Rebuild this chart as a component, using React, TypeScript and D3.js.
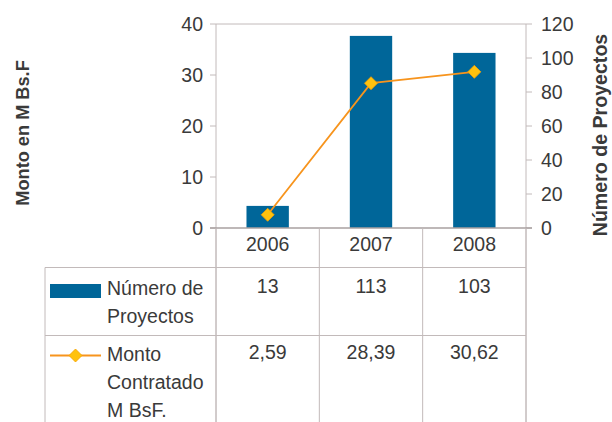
import React from 'react';
import * as d3 from 'd3';

const years = ['2006', '2007', '2008'];
const proyectos = [13, 113, 103];
const monto = [2.59, 28.39, 30.62];
const montoLabels = ['2,59', '28,39', '30,62'];
const leftTicks = [0, 10, 20, 30, 40];
const rightTicks = [0, 20, 40, 60, 80, 100, 120];

const W = 612;
const H = 422;
const plot = { left: 216, right: 526, top: 24, bottom: 228 };
const tableLeft = 45;
const row1 = 267.5;
const row2 = 335.5;

const font = '"Liberation Sans", Arial, sans-serif';
const textColor = '#3a3a3a';
const gridColor = '#c2baba';
const barColor = '#006699';
const lineColor = '#f7941d';
const markerColor = '#ffc20e';

const App = () => {
  const x = d3.scaleBand<string>().domain(years).range([plot.left, plot.right]).padding(0);
  const yLeft = d3.scaleLinear().domain([0, 40]).range([plot.bottom, plot.top]);
  const yRight = d3.scaleLinear().domain([0, 120]).range([plot.bottom, plot.top]);
  const bw = x.bandwidth() * 0.41;
  const cx = (d: string) => (x(d) as number) + x.bandwidth() / 2;

  const line = d3.line<number>()
    .x((_, i) => cx(years[i]))
    .y(d => yLeft(d));

  const diamond = (px: number, py: number, r: number) =>
    `M${px},${py - r}L${px + r},${py}L${px},${py + r}L${px - r},${py}Z`;

  const dividers = [plot.left, ...years.map(y => (x(y) as number) + x.bandwidth())];

  return (
    <svg width={W} height={H} style={{ position: 'absolute', left: 0, top: 0, background: '#fff' }}
      fontFamily={font}>
      {/* frame */}
      <line x1={plot.left} x2={plot.right} y1={plot.top} y2={plot.top} stroke={gridColor} />
      <line x1={plot.right} x2={plot.right} y1={plot.top} y2={H} stroke={gridColor} />

      {/* bars */}
      {years.map((y, i) => (
        <rect key={y} x={cx(y) - bw / 2} y={yRight(proyectos[i])} width={bw}
          height={plot.bottom - yRight(proyectos[i])} fill={barColor} />
      ))}

      {/* line + markers */}
      <path d={line(monto) || ''} fill="none" stroke={lineColor} strokeWidth={1.8} />
      {monto.map((v, i) => (
        <path key={i} d={diamond(cx(years[i]), yLeft(v), 6.5)} fill={markerColor}
          stroke="#f5a000" strokeWidth={0.8} />
      ))}

      {/* left axis */}
      <line x1={plot.left} x2={plot.left} y1={plot.top} y2={H} stroke={gridColor} />
      {leftTicks.map(t => (
        <g key={t}>
          <line x1={plot.left - 6} x2={plot.left} y1={yLeft(t)} y2={yLeft(t)} stroke={gridColor} />
          <text x={203} y={yLeft(t)} dy="0.36em" textAnchor="end" fontSize={19.5} fill={textColor}>{t}</text>
        </g>
      ))}

      {/* right axis */}
      {rightTicks.map(t => (
        <g key={t}>
          <line x1={plot.right} x2={plot.right + 6} y1={yRight(t)} y2={yRight(t)} stroke={gridColor} />
          <text x={541} y={yRight(t)} dy="0.36em" textAnchor="start" fontSize={19.5} fill={textColor}>{t}</text>
        </g>
      ))}

      {/* zero line */}
      <line x1={plot.left - 6} x2={plot.right + 6} y1={plot.bottom} y2={plot.bottom} stroke="#a8a0a0" strokeWidth={1.5} />

      {/* axis titles */}
      <text transform="translate(29,133) rotate(-90)" textAnchor="middle" fontSize={18.2}
        fontWeight="bold" fill={textColor}>Monto en M Bs.F</text>
      <text transform="translate(607,135) rotate(-90)" textAnchor="middle" fontSize={19.6}
        fontWeight="bold" fill={textColor}>Número de Proyectos</text>

      {/* category labels */}
      {years.map(y => (
        <text key={y} x={cx(y)} y={251} textAnchor="middle" fontSize={19.5} fill={textColor}>{y}</text>
      ))}

      {/* data table */}
      {dividers.map((d, i) => (
        <line key={i} x1={d} x2={d} y1={plot.bottom} y2={H} stroke={gridColor} />
      ))}
      <line x1={tableLeft} x2={tableLeft} y1={row1} y2={H} stroke={gridColor} />
      <line x1={tableLeft} x2={plot.right} y1={row1} y2={row1} stroke={gridColor} />
      <line x1={tableLeft} x2={plot.right} y1={row2} y2={row2} stroke={gridColor} />

      <rect x={50} y={284} width={51} height={14} fill={barColor} />
      <text x={107} y={295} fontSize={19.5} fill={textColor}>Número de</text>
      <text x={107} y={323} fontSize={19.5} fill={textColor}>Proyectos</text>

      <line x1={50} x2={101} y1={355.5} y2={355.5} stroke={lineColor} strokeWidth={1.8} />
      <path d={diamond(75.5, 355.5, 6.5)} fill={markerColor} stroke="#f5a000" strokeWidth={0.8} />
      <text x={107} y={361} fontSize={19.5} fill={textColor}>Monto</text>
      <text x={107} y={389} fontSize={19.5} fill={textColor}>Contratado</text>
      <text x={107} y={417} fontSize={19.5} fill={textColor}>M BsF.</text>

      {years.map((y, i) => (
        <g key={y}>
          <text x={cx(y)} y={293} textAnchor="middle" fontSize={19.5} fill={textColor}>{proyectos[i]}</text>
          <text x={cx(y)} y={359} textAnchor="middle" fontSize={19.5} fill={textColor}>{montoLabels[i]}</text>
        </g>
      ))}
    </svg>
  );
};

export default App;
